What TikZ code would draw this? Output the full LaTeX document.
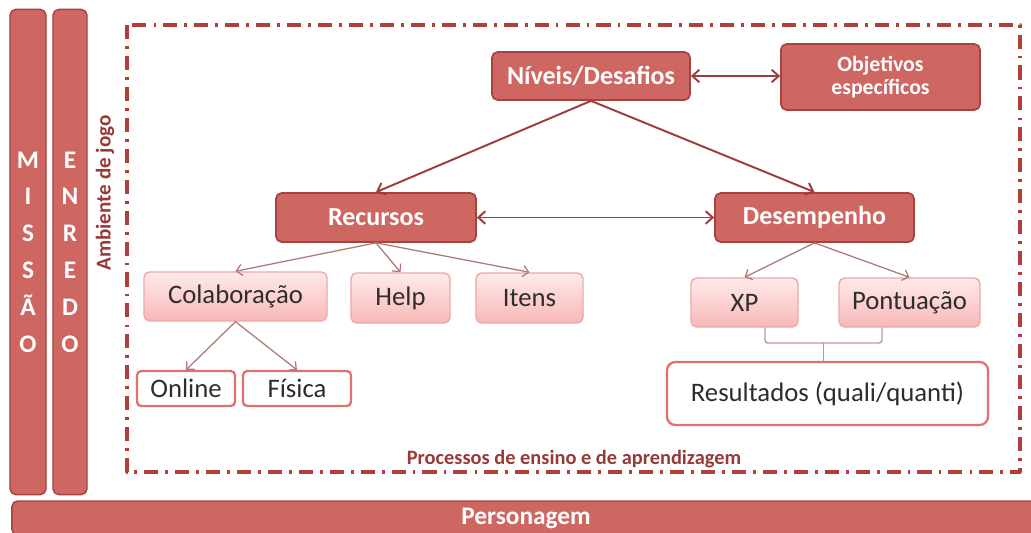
\documentclass[tikz,border=0pt]{standalone}
\usepackage{fontspec}
\setmainfont{Carlito}
\usetikzlibrary{arrows.meta}
\definecolor{barred}{RGB}{206,102,97}
\definecolor{barborder}{RGB}{168,66,62}
\definecolor{framered}{RGB}{178,62,58}
\definecolor{arrowred}{RGB}{158,62,58}
\definecolor{lightarrow}{RGB}{178,120,118}
\definecolor{lighttop}{RGB}{255,234,234}
\definecolor{lightbottom}{RGB}{248,184,184}
\definecolor{lightborder}{RGB}{238,168,168}
\definecolor{whiteborder}{RGB}{222,112,110}
\definecolor{textgray}{RGB}{45,45,45}
\definecolor{bracegray}{RGB}{190,150,148}
\definecolor{labelred}{RGB}{150,58,55}

\tikzset{
  sidebar/.style={draw=barborder, fill=barred, line width=1pt, rounded corners=4pt, inner sep=0pt,
    text=white, font=\fontsize{18}{26.2}\selectfont\bfseries, align=center},
  darkbox/.style={draw=barborder, fill=barred, line width=1.2pt, rounded corners=4pt, inner sep=0pt,
    text=white, font=\fontsize{18.5}{19}\selectfont\bfseries, align=center},
  lightbox/.style={draw=lightborder, top color=lighttop, bottom color=lightbottom, line width=1pt,
    rounded corners=4pt, inner sep=0pt, text=textgray, font=\fontsize{19}{20}\selectfont},
  whitebox/.style={draw=whiteborder, fill=white, line width=1.6pt, rounded corners=3pt, inner sep=0pt,
    text=textgray, font=\fontsize{19}{20}\selectfont},
  mainarrow/.style={arrowred, line width=1.4pt},
  subarrow/.style={lightarrow, line width=0.9pt, -{Straight Barb[length=4pt,width=8pt]}},
  framelabel/.style={text=labelred, font=\fontsize{14.5}{15}\selectfont\bfseries, inner sep=0pt}
}

\begin{document}
\begin{tikzpicture}[x=0.025cm,y=-0.025cm,line cap=round,line join=round,
  >={Straight Barb[length=5pt,width=9pt]}]
\clip (0,0) rectangle (1031,532);

% side bars and bottom bar
\node[sidebar, minimum width=0.9cm, minimum height=12.125cm] (missao) at (28,252)
  {M\\I\\S\\S\\Ã\\O};
\node[sidebar, minimum width=0.85cm, minimum height=12.125cm] (enredo) at (70,252)
  {E\\N\\R\\E\\D\\O};
\node[sidebar, font=\fontsize{18}{19}\selectfont\bfseries, minimum width=25.7cm, minimum height=0.85cm]
  (personagem) at (526,518) {Personagem};

% ambiente de jogo
\draw[framered, line width=2.2pt, line cap=butt, dash pattern=on 10pt off 5pt on 2pt off 5pt]
  (127,25) rectangle (1020,472);
\node[framelabel, rotate=90, font=\fontsize{15}{16}\selectfont\bfseries] (ambiente) at (105,193) {Ambiente de jogo};
\node[framelabel] (processos) at (574,459) {Processos de ensino e de aprendizagem};

% main nodes
\node[darkbox, minimum width=4.95cm, minimum height=1.2cm] (niveis) at (591,76) {Níveis/Desafios};
\node[darkbox, font=\fontsize{15.5}{16.5}\selectfont\bfseries, minimum width=4.975cm, minimum height=1.65cm]
  (objetivos) at (880.5,77) {Objetivos\\específicos};
\node[darkbox, minimum width=5cm, minimum height=1.225cm] (recursos) at (376,217.5) {Recursos};
\node[darkbox, minimum width=4.975cm, minimum height=1.225cm] (desempenho) at (814.5,217.5) {Desempenho};

\node[lightbox, minimum width=4.575cm, minimum height=1.225cm] (colaboracao) at (235.5,296.5) {Colaboração};
\node[lightbox, minimum width=2.475cm, minimum height=1.25cm] (help) at (400.5,298) {Help};
\node[lightbox, minimum width=2.675cm, minimum height=1.25cm] (itens) at (529.5,298) {Itens};
\node[lightbox, minimum width=2.675cm, minimum height=1.225cm] (xp) at (744.5,302.5) {XP};
\node[lightbox, minimum width=3.525cm, minimum height=1.225cm] (pontuacao) at (909.5,302.5) {Pontuação};

\node[whitebox, minimum width=2.45cm, minimum height=0.875cm] (online) at (186,388.5) {Online};
\node[whitebox, minimum width=2.7cm, minimum height=0.875cm] (fisica) at (297,388.5) {Física};
\node[whitebox, rounded corners=6pt, minimum width=8.025cm, minimum height=1.575cm]
  (resultados) at (827.5,393.5) {Resultados (quali/quanti)};

% connectors
\draw[mainarrow, <->] (niveis.east) -- (niveis.east -| objetivos.west);
\draw[mainarrow, ->] (niveis.south) -- (recursos.north);
\draw[mainarrow, ->] (niveis.south) -- (desempenho.north);
\draw[mainarrow, <->] (recursos.east) -- (desempenho.west);

\draw[subarrow] (recursos.south) -- (colaboracao.north);
\draw[subarrow] (recursos.south) -- (help.north);
\draw[subarrow] (recursos.south) -- (itens.north);
\draw[subarrow] (desempenho.south) -- (xp.north);
\draw[subarrow] (desempenho.south) -- (pontuacao.north);
\draw[subarrow] (colaboracao.south) -- (online.north);
\draw[subarrow] (colaboracao.south) -- (fisica.north);

% brace under XP and Pontuacao
\coordinate (braceleft) at (765,328);
\coordinate (braceright) at (882,328);
\coordinate (bracemid) at (823.5,343);
\draw[bracegray, line width=1pt, rounded corners=2pt]
  (braceleft) |- (bracemid) -| (braceright);
\draw[bracegray, line width=1pt] (bracemid) -- (bracemid |- resultados.north);
\end{tikzpicture}
\end{document}
